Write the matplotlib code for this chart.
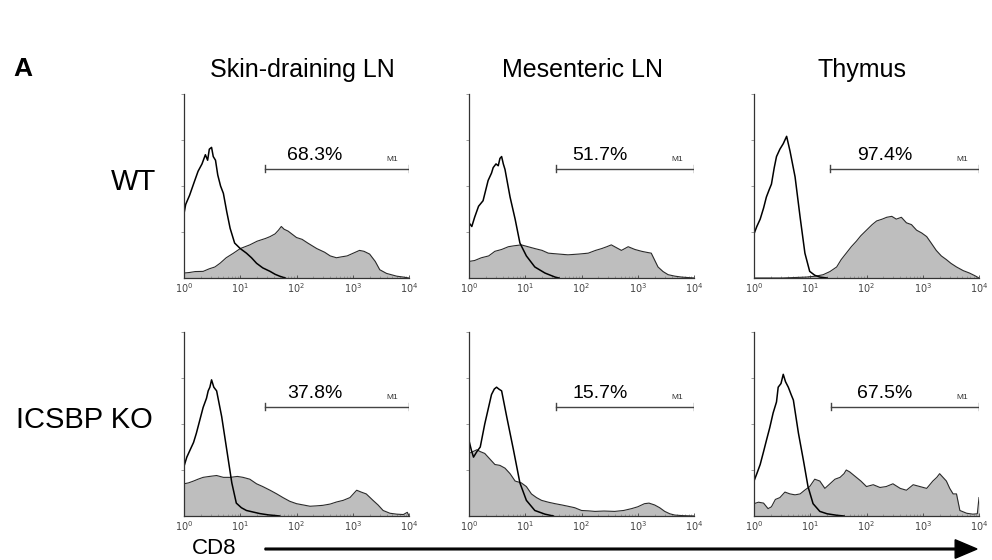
import numpy as np
import matplotlib
matplotlib.use('Agg')
import matplotlib.pyplot as plt

plt.rcParams['font.family'] = ['Liberation Sans', 'DejaVu Sans']

# ---- data (x in log10 decades, y as fraction of the axis height) ----
tissues = ['Skin-draining LN', 'Mesenteric LN', 'Thymus']
genotypes = ['WT', 'ICSBP KO']
percents = [['68.3%', '51.7%', '97.4%'],
            ['37.8%', '15.7%', '67.5%']]
gate_start = [[1.44, 1.55, 1.35],
              [1.44, 1.55, 1.37]]

# WT, skin-draining LN
wt_skin_iso_x = [0.0, 0.03, 0.1, 0.18, 0.25, 0.32, 0.38, 0.42, 0.45, 0.49, 0.52, 0.56, 0.6, 0.65, 0.7, 0.76, 0.82, 0.9, 1.0, 1.11, 1.2, 1.29, 1.4, 1.53, 1.62, 1.7, 1.8]
wt_skin_iso_y = [0.35, 0.4, 0.45, 0.52, 0.58, 0.62, 0.67, 0.64, 0.7, 0.71, 0.66, 0.64, 0.56, 0.5, 0.46, 0.36, 0.27, 0.19, 0.16, 0.135, 0.11, 0.08, 0.055, 0.036, 0.02, 0.01, 0.0]
wt_skin_pos_x = [0.0, 0.1, 0.2, 0.34, 0.45, 0.55, 0.64, 0.75, 0.88, 1.0, 1.17, 1.3, 1.45, 1.53, 1.62, 1.68, 1.73, 1.78, 1.85, 2.0, 2.1, 2.2, 2.36, 2.5, 2.6, 2.71, 2.8, 2.9, 3.01, 3.12, 3.2, 3.3, 3.4, 3.48, 3.6, 3.78, 3.9, 4.0]
wt_skin_pos_y = [0.027, 0.03, 0.035, 0.036, 0.05, 0.06, 0.08, 0.11, 0.135, 0.16, 0.18, 0.2, 0.215, 0.225, 0.24, 0.26, 0.28, 0.265, 0.255, 0.22, 0.21, 0.19, 0.16, 0.14, 0.12, 0.11, 0.115, 0.12, 0.135, 0.15, 0.145, 0.13, 0.09, 0.045, 0.025, 0.01, 0.005, 0.0]

# WT, mesenteric LN
wt_mes_iso_x = [0.0, 0.05, 0.1, 0.17, 0.25, 0.34, 0.4, 0.43, 0.48, 0.52, 0.55, 0.58, 0.61, 0.64, 0.73, 0.82, 0.905, 1.02, 1.17, 1.35, 1.53, 1.6]
wt_mes_iso_y = [0.3, 0.28, 0.33, 0.39, 0.42, 0.53, 0.57, 0.6, 0.62, 0.61, 0.65, 0.66, 0.62, 0.59, 0.44, 0.32, 0.19, 0.12, 0.06, 0.027, 0.005, 0.0]
wt_mes_pos_x = [0.0, 0.1, 0.22, 0.35, 0.46, 0.58, 0.7, 0.8, 0.93, 1.05, 1.17, 1.3, 1.41, 1.6, 1.76, 1.95, 2.12, 2.25, 2.36, 2.45, 2.53, 2.62, 2.71, 2.83, 2.95, 3.07, 3.15, 3.24, 3.36, 3.45, 3.54, 3.66, 3.78, 4.0]
wt_mes_pos_y = [0.09, 0.095, 0.11, 0.12, 0.145, 0.155, 0.17, 0.175, 0.18, 0.17, 0.16, 0.15, 0.135, 0.13, 0.126, 0.13, 0.135, 0.15, 0.16, 0.17, 0.18, 0.165, 0.15, 0.17, 0.155, 0.145, 0.14, 0.135, 0.06, 0.035, 0.018, 0.01, 0.005, 0.0]

# WT, thymus
wt_thy_iso_x = [0.0, 0.05, 0.11, 0.17, 0.22, 0.27, 0.31, 0.36, 0.4, 0.46, 0.52, 0.58, 0.64, 0.73, 0.82, 0.905, 0.99, 1.08, 1.17, 1.3]
wt_thy_iso_y = [0.24, 0.28, 0.32, 0.38, 0.44, 0.48, 0.51, 0.6, 0.66, 0.7, 0.73, 0.77, 0.69, 0.55, 0.33, 0.135, 0.036, 0.015, 0.005, 0.0]
wt_thy_pos_x = [0.0, 0.5, 0.93, 1.1, 1.23, 1.35, 1.47, 1.55, 1.64, 1.73, 1.82, 1.9, 2.0, 2.1, 2.18, 2.28, 2.36, 2.45, 2.53, 2.62, 2.71, 2.8, 2.89, 2.98, 3.07, 3.15, 3.24, 3.33, 3.42, 3.5, 3.6, 3.72, 3.83, 3.93, 4.0]
wt_thy_pos_y = [0.0, 0.0, 0.005, 0.01, 0.018, 0.035, 0.06, 0.1, 0.135, 0.17, 0.2, 0.23, 0.26, 0.29, 0.31, 0.32, 0.33, 0.335, 0.32, 0.33, 0.3, 0.29, 0.26, 0.245, 0.225, 0.19, 0.15, 0.12, 0.1, 0.08, 0.06, 0.04, 0.027, 0.012, 0.0]

# ICSBP KO, skin-draining LN
ko_skin_iso_x = [0.0, 0.05, 0.11, 0.17, 0.22, 0.28, 0.34, 0.4, 0.43, 0.46, 0.49, 0.53, 0.58, 0.67, 0.76, 0.85, 0.93, 1.02, 1.11, 1.25, 1.35, 1.5, 1.64, 1.7]
ko_skin_iso_y = [0.27, 0.32, 0.36, 0.4, 0.45, 0.52, 0.59, 0.64, 0.68, 0.7, 0.74, 0.7, 0.68, 0.54, 0.36, 0.18, 0.07, 0.045, 0.03, 0.02, 0.013, 0.006, 0.002, 0.0]
ko_skin_pos_x = [0.0, 0.08, 0.17, 0.25, 0.34, 0.45, 0.58, 0.7, 0.82, 0.95, 1.05, 1.17, 1.29, 1.4, 1.53, 1.65, 1.76, 1.88, 2.0, 2.12, 2.24, 2.35, 2.47, 2.6, 2.71, 2.83, 2.95, 3.07, 3.15, 3.24, 3.36, 3.45, 3.54, 3.66, 3.78, 3.9, 3.97, 4.0]
ko_skin_pos_y = [0.175, 0.18, 0.19, 0.2, 0.21, 0.215, 0.22, 0.21, 0.21, 0.215, 0.21, 0.2, 0.175, 0.16, 0.14, 0.12, 0.1, 0.08, 0.067, 0.06, 0.053, 0.055, 0.058, 0.065, 0.076, 0.085, 0.1, 0.14, 0.13, 0.12, 0.085, 0.06, 0.03, 0.015, 0.01, 0.008, 0.02, 0.0]

# ICSBP KO, mesenteric LN
ko_mes_iso_x = [0.0, 0.04, 0.08, 0.14, 0.2, 0.28, 0.34, 0.4, 0.45, 0.49, 0.53, 0.58, 0.67, 0.79, 0.905, 1.02, 1.17, 1.35, 1.5]
ko_mes_iso_y = [0.41, 0.36, 0.32, 0.35, 0.375, 0.5, 0.58, 0.66, 0.69, 0.7, 0.69, 0.68, 0.54, 0.36, 0.18, 0.085, 0.03, 0.01, 0.0]
ko_mes_pos_x = [0.0, 0.07, 0.14, 0.2, 0.28, 0.37, 0.46, 0.55, 0.64, 0.73, 0.82, 0.93, 1.02, 1.11, 1.2, 1.29, 1.41, 1.53, 1.65, 1.76, 1.88, 2.0, 2.12, 2.24, 2.4, 2.59, 2.75, 2.89, 3.0, 3.12, 3.2, 3.3, 3.39, 3.48, 3.57, 3.66, 3.8, 4.0]
ko_mes_pos_y = [0.34, 0.35, 0.36, 0.35, 0.34, 0.31, 0.28, 0.275, 0.26, 0.23, 0.19, 0.18, 0.16, 0.12, 0.1, 0.085, 0.075, 0.067, 0.06, 0.053, 0.045, 0.03, 0.028, 0.025, 0.027, 0.025, 0.03, 0.04, 0.05, 0.067, 0.07, 0.06, 0.045, 0.025, 0.012, 0.005, 0.002, 0.0]

# ICSBP KO, thymus
ko_thy_iso_x = [0.0, 0.05, 0.11, 0.17, 0.22, 0.28, 0.34, 0.4, 0.43, 0.48, 0.52, 0.56, 0.61, 0.66, 0.7, 0.79, 0.88, 0.96, 1.05, 1.17, 1.3, 1.47, 1.6]
ko_thy_iso_y = [0.19, 0.23, 0.28, 0.35, 0.41, 0.48, 0.56, 0.62, 0.7, 0.72, 0.77, 0.73, 0.7, 0.66, 0.63, 0.45, 0.3, 0.16, 0.067, 0.025, 0.012, 0.004, 0.0]
ko_thy_pos_x = [0.0, 0.08, 0.17, 0.25, 0.31, 0.38, 0.46, 0.55, 0.64, 0.73, 0.82, 0.9, 0.99, 1.08, 1.17, 1.26, 1.35, 1.44, 1.53, 1.6, 1.64, 1.7, 1.82, 1.9, 2.0, 2.12, 2.24, 2.35, 2.47, 2.6, 2.71, 2.83, 2.95, 3.07, 3.18, 3.25, 3.3, 3.36, 3.42, 3.48, 3.54, 3.6, 3.66, 3.78, 3.89, 3.97, 4.0]
ko_thy_pos_y = [0.067, 0.075, 0.07, 0.04, 0.05, 0.09, 0.1, 0.13, 0.12, 0.115, 0.12, 0.14, 0.16, 0.2, 0.19, 0.15, 0.175, 0.2, 0.21, 0.23, 0.25, 0.24, 0.21, 0.19, 0.16, 0.17, 0.155, 0.16, 0.175, 0.15, 0.14, 0.17, 0.16, 0.15, 0.19, 0.21, 0.23, 0.21, 0.19, 0.15, 0.12, 0.12, 0.03, 0.015, 0.01, 0.012, 0.1]

iso_x = [[wt_skin_iso_x, wt_mes_iso_x, wt_thy_iso_x], [ko_skin_iso_x, ko_mes_iso_x, ko_thy_iso_x]]
iso_y = [[wt_skin_iso_y, wt_mes_iso_y, wt_thy_iso_y], [ko_skin_iso_y, ko_mes_iso_y, ko_thy_iso_y]]
pos_x = [[wt_skin_pos_x, wt_mes_pos_x, wt_thy_pos_x], [ko_skin_pos_x, ko_mes_pos_x, ko_thy_pos_x]]
pos_y = [[wt_skin_pos_y, wt_mes_pos_y, wt_thy_pos_y], [ko_skin_pos_y, ko_mes_pos_y, ko_thy_pos_y]]

W, H = 992, 560
fig = plt.figure(figsize=(W / 100, H / 100), dpi=100)
fig.patch.set_facecolor('white')


def px(x, y):
    return x / W, 1 - y / H


col_left = [184, 469, 754]
row_bottom = [278, 516]
ax_w, ax_h = 225, 184

for r in range(2):
    for c in range(3):
        l, b = px(col_left[c], row_bottom[r])
        ax = fig.add_axes([l, b, ax_w / W, ax_h / H])
        fx = 10 ** np.array(pos_x[r][c])
        ax.fill_between(fx, pos_y[r][c], 0, color='#bebebe', lw=0)
        ax.plot(fx, pos_y[r][c], color='#2a2a2a', lw=0.8)
        ax.plot(10 ** np.array(iso_x[r][c]), iso_y[r][c], color='black', lw=1.1)

        # M1 gate bar
        gy = 0.595
        x0 = 10 ** gate_start[r][c]
        ax.plot([x0, 1e4], [gy, gy], color='#444444', lw=1)
        ax.plot([x0, x0], [gy - 0.02, gy + 0.02], color='#444444', lw=1)
        ax.plot([1e4, 1e4], [gy - 0.02, gy + 0.02], color='#444444', lw=1)
        ax.text(10 ** 2.33, 0.665, percents[r][c], ha='center', va='center', fontsize=14)
        ax.text(10 ** 3.7, gy + 0.03, 'M1', ha='center', va='bottom', fontsize=6, color='#333333')

        ax.set_xscale('log')
        ax.set_xlim(1, 1e4)
        ax.set_ylim(0, 1)
        for s in ['top', 'right']:
            ax.spines[s].set_visible(False)
        for s in ['left', 'bottom']:
            ax.spines[s].set_color('#333333')
            ax.spines[s].set_linewidth(0.9)
        ax.set_xticks([1, 10, 100, 1000, 10000])
        ax.set_xticklabels([r'$10^0$', r'$10^1$', r'$10^2$', r'$10^3$', r'$10^4$'])
        ax.tick_params(axis='x', which='major', length=2, width=0.6, direction='in',
                       labelsize=7, pad=2, colors='#444444')
        ax.tick_params(axis='x', which='minor', length=1.2, width=0.4, direction='in', colors='#777777')
        ax.set_yticks([0.25, 0.5, 0.75, 1.0])
        ax.set_yticklabels([])
        ax.tick_params(axis='y', length=2, width=0.5, direction='out', colors='#777777')
        ax.patch.set_alpha(0)

# column and row labels
title_x = [302, 583, 862]
for c in range(3):
    fig.text(*px(title_x[c], 70), tissues[c], ha='center', va='center', fontsize=18)
fig.text(*px(156, 182), genotypes[0], ha='right', va='center', fontsize=21)
fig.text(*px(153, 420), genotypes[1], ha='right', va='center', fontsize=21)
fig.text(*px(13, 69), 'A', ha='left', va='center', fontsize=19, fontweight='bold')
fig.text(*px(214, 549), 'CD8', ha='center', va='center', fontsize=16)

fig.patches.append(matplotlib.patches.FancyArrow(
    265 / W, 1 - 549 / H, (977 - 265) / W, 0, width=0.003, head_width=0.033,
    head_length=0.022, length_includes_head=True, color='black',
    transform=fig.transFigure, figure=fig))

fig.savefig('out.png', dpi=100)
